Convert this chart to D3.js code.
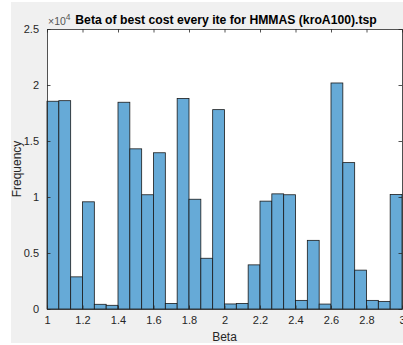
<!DOCTYPE html>
<html><head><meta charset="utf-8">
<script src="https://cdn.jsdelivr.net/npm/d3@7"></script>
<style>body{margin:0;background:#fff}svg{display:block}text{font-family:"Liberation Sans",Arial,Helvetica,sans-serif}</style>
</head><body><svg id="c" width="403" height="345"></svg>
<script>
// Histogram: 30 bins from 1 to 3, counts in units of 1e4
const binEdgesStart = 1, binEdgesEnd = 3, binCount = 30;
const counts = [1.855,1.86,0.287,0.957,0.042,0.033,1.846,1.43,1.02,1.395,0.05,1.88,0.98,0.453,1.78,0.045,0.05,0.394,0.963,1.028,1.02,0.077,0.613,0.044,2.018,1.307,0.347,0.077,0.068,1.022];
const xTicks = [1,1.2,1.4,1.6,1.8,2,2.2,2.4,2.6,2.8,3];
const xTickLabels = ["1","1.2","1.4","1.6","1.8","2","2.2","2.4","2.6","2.8","3"];
const yTicks = [0,0.5,1,1.5,2,2.5];
const yTickLabels = ["0","0.5","1","1.5","2","2.5"];
const title = "Beta of best cost every ite for HMMAS (kroA100).tsp";
const xLabel = "Beta", yLabel = "Frequency";

const svg = d3.select("#c");
const L=47, R=402, T=29, B=309;
const x = d3.scaleLinear().domain([binEdgesStart,binEdgesEnd]).range([L,R]);
const y = d3.scaleLinear().domain([0,2.5]).range([B,T]);
const axisColor = "#262626";

svg.append("rect").attr("x",11).attr("y",2).attr("width",392).attr("height",341).attr("fill","#f0f0f0");
svg.append("rect").attr("x",L).attr("y",T).attr("width",R-L).attr("height",B-T).attr("fill","#fff");

const w = (binEdgesEnd-binEdgesStart)/binCount;
const bins = counts.map((c,i)=>({x0:binEdgesStart+i*w, x1:binEdgesStart+(i+1)*w, v:c}));
svg.append("g").selectAll("rect").data(bins).join("rect")
  .attr("x",d=>x(d.x0)).attr("width",d=>x(d.x1)-x(d.x0))
  .attr("y",d=>y(d.v)).attr("height",d=>y(0)-y(d.v))
  .attr("fill","#66aad7").attr("stroke","#1a1a1a").attr("stroke-width",0.8);

const tl = 3.5;
const fmtX = (d,i)=>xTickLabels[i];
const fmtY = (d,i)=>yTickLabels[i];
const gb = svg.append("g").attr("transform",`translate(0,${B})`)
  .call(d3.axisBottom(x).tickValues(xTicks).tickFormat(fmtX).tickSizeInner(-tl).tickSizeOuter(0).tickPadding(7));
const gt = svg.append("g").attr("transform",`translate(0,${T})`)
  .call(d3.axisTop(x).tickValues(xTicks).tickFormat("").tickSizeInner(-tl).tickSizeOuter(0));
const gl = svg.append("g").attr("transform",`translate(${L},0)`)
  .call(d3.axisLeft(y).tickValues(yTicks).tickFormat(fmtY).tickSizeInner(-tl).tickSizeOuter(0).tickPadding(8));
const gr = svg.append("g").attr("transform",`translate(${R},0)`)
  .call(d3.axisRight(y).tickValues(yTicks).tickFormat("").tickSizeInner(-tl).tickSizeOuter(0));
[gb,gt,gl,gr].forEach(g=>{
  g.selectAll("path").attr("stroke",axisColor).attr("stroke-width",0.8);
  g.selectAll("line").attr("stroke",axisColor).attr("stroke-width",0.8);
  g.selectAll("text").attr("fill",axisColor).attr("font-size",11).attr("font-family","Liberation Sans, Arial, sans-serif");
});

svg.append("text").attr("x",226).attr("y",24).attr("text-anchor","middle")
  .attr("font-size",12.2).attr("font-weight","bold").attr("fill","#000").text(title);
const ex = svg.append("text").attr("x",48).attr("y",25).attr("font-size",10.5).attr("fill","#555");
ex.append("tspan").text("×10");
ex.append("tspan").attr("dy",-5).attr("font-size",8.5).text("4");

svg.append("text").attr("x",(L+R)/2).attr("y",341).attr("text-anchor","middle")
  .attr("font-size",12).attr("fill",axisColor).text(xLabel);
svg.append("text").attr("transform",`translate(21,${(T+B)/2}) rotate(-90)`).attr("text-anchor","middle")
  .attr("font-size",12).attr("fill",axisColor).text(yLabel);
</script></body></html>
